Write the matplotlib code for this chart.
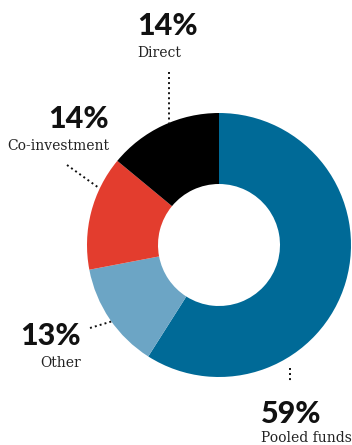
import matplotlib
matplotlib.use("Agg")
import matplotlib.pyplot as plt

categories = ["Pooled funds", "Other", "Co-investment", "Direct"]
values = [59, 13, 14, 14]
pct_labels = ["59%", "13%", "14%", "14%"]
colors = ["#006a97", "#6ca5c5", "#e33d2e", "#000000"]

W, H = 352, 445
fig = plt.figure(figsize=(W / 100, H / 100), dpi=100)
ax = fig.add_axes([0, 0, 1, 1])

cx, cy = 219, H - 245
ax.pie(values, startangle=90, counterclock=False, radius=132, center=(cx, cy),
       colors=colors, wedgeprops=dict(width=71, linewidth=0), frame=True)
ax.set_xlim(0, W)
ax.set_ylim(0, H)
ax.set_aspect("equal")
ax.axis("off")

def py(p):
    return H - p

pct_font = dict(family=["Lato", "DejaVu Sans"], fontweight="black", fontsize=22, color="#111111")
lab_font = dict(family=["DejaVu Serif"], fontsize=10, color="#222222")

# label layout: (x, pct baseline, name baseline, ha)
layout = {
    "Direct": (137, 35, 57, "left"),
    "Co-investment": (109, 128, 150, "right"),
    "Other": (81, 345, 367, "right"),
    "Pooled funds": (261, 423, 442, "left"),
}
for cat, pct in zip(categories, pct_labels):
    x, yb1, yb2, ha = layout[cat]
    ax.text(x, py(yb1), pct, ha=ha, va="baseline", **pct_font)
    ax.text(x, py(yb2), cat, ha=ha, va="baseline", **lab_font)

# dotted leaders
leaders = [
    ((169, 72), (169, 124)),
    ((67, 165), (99, 188)),
    ((90, 328), (113, 321)),
    ((290, 368), (290, 383)),
]
for (x1, y1), (x2, y2) in leaders:
    ax.plot([x1, x2], [py(y1), py(y2)], color="#111111", lw=1.4,
            linestyle=(0, (1, 1.6)), solid_capstyle="butt")

fig.savefig("out.png", dpi=100)
